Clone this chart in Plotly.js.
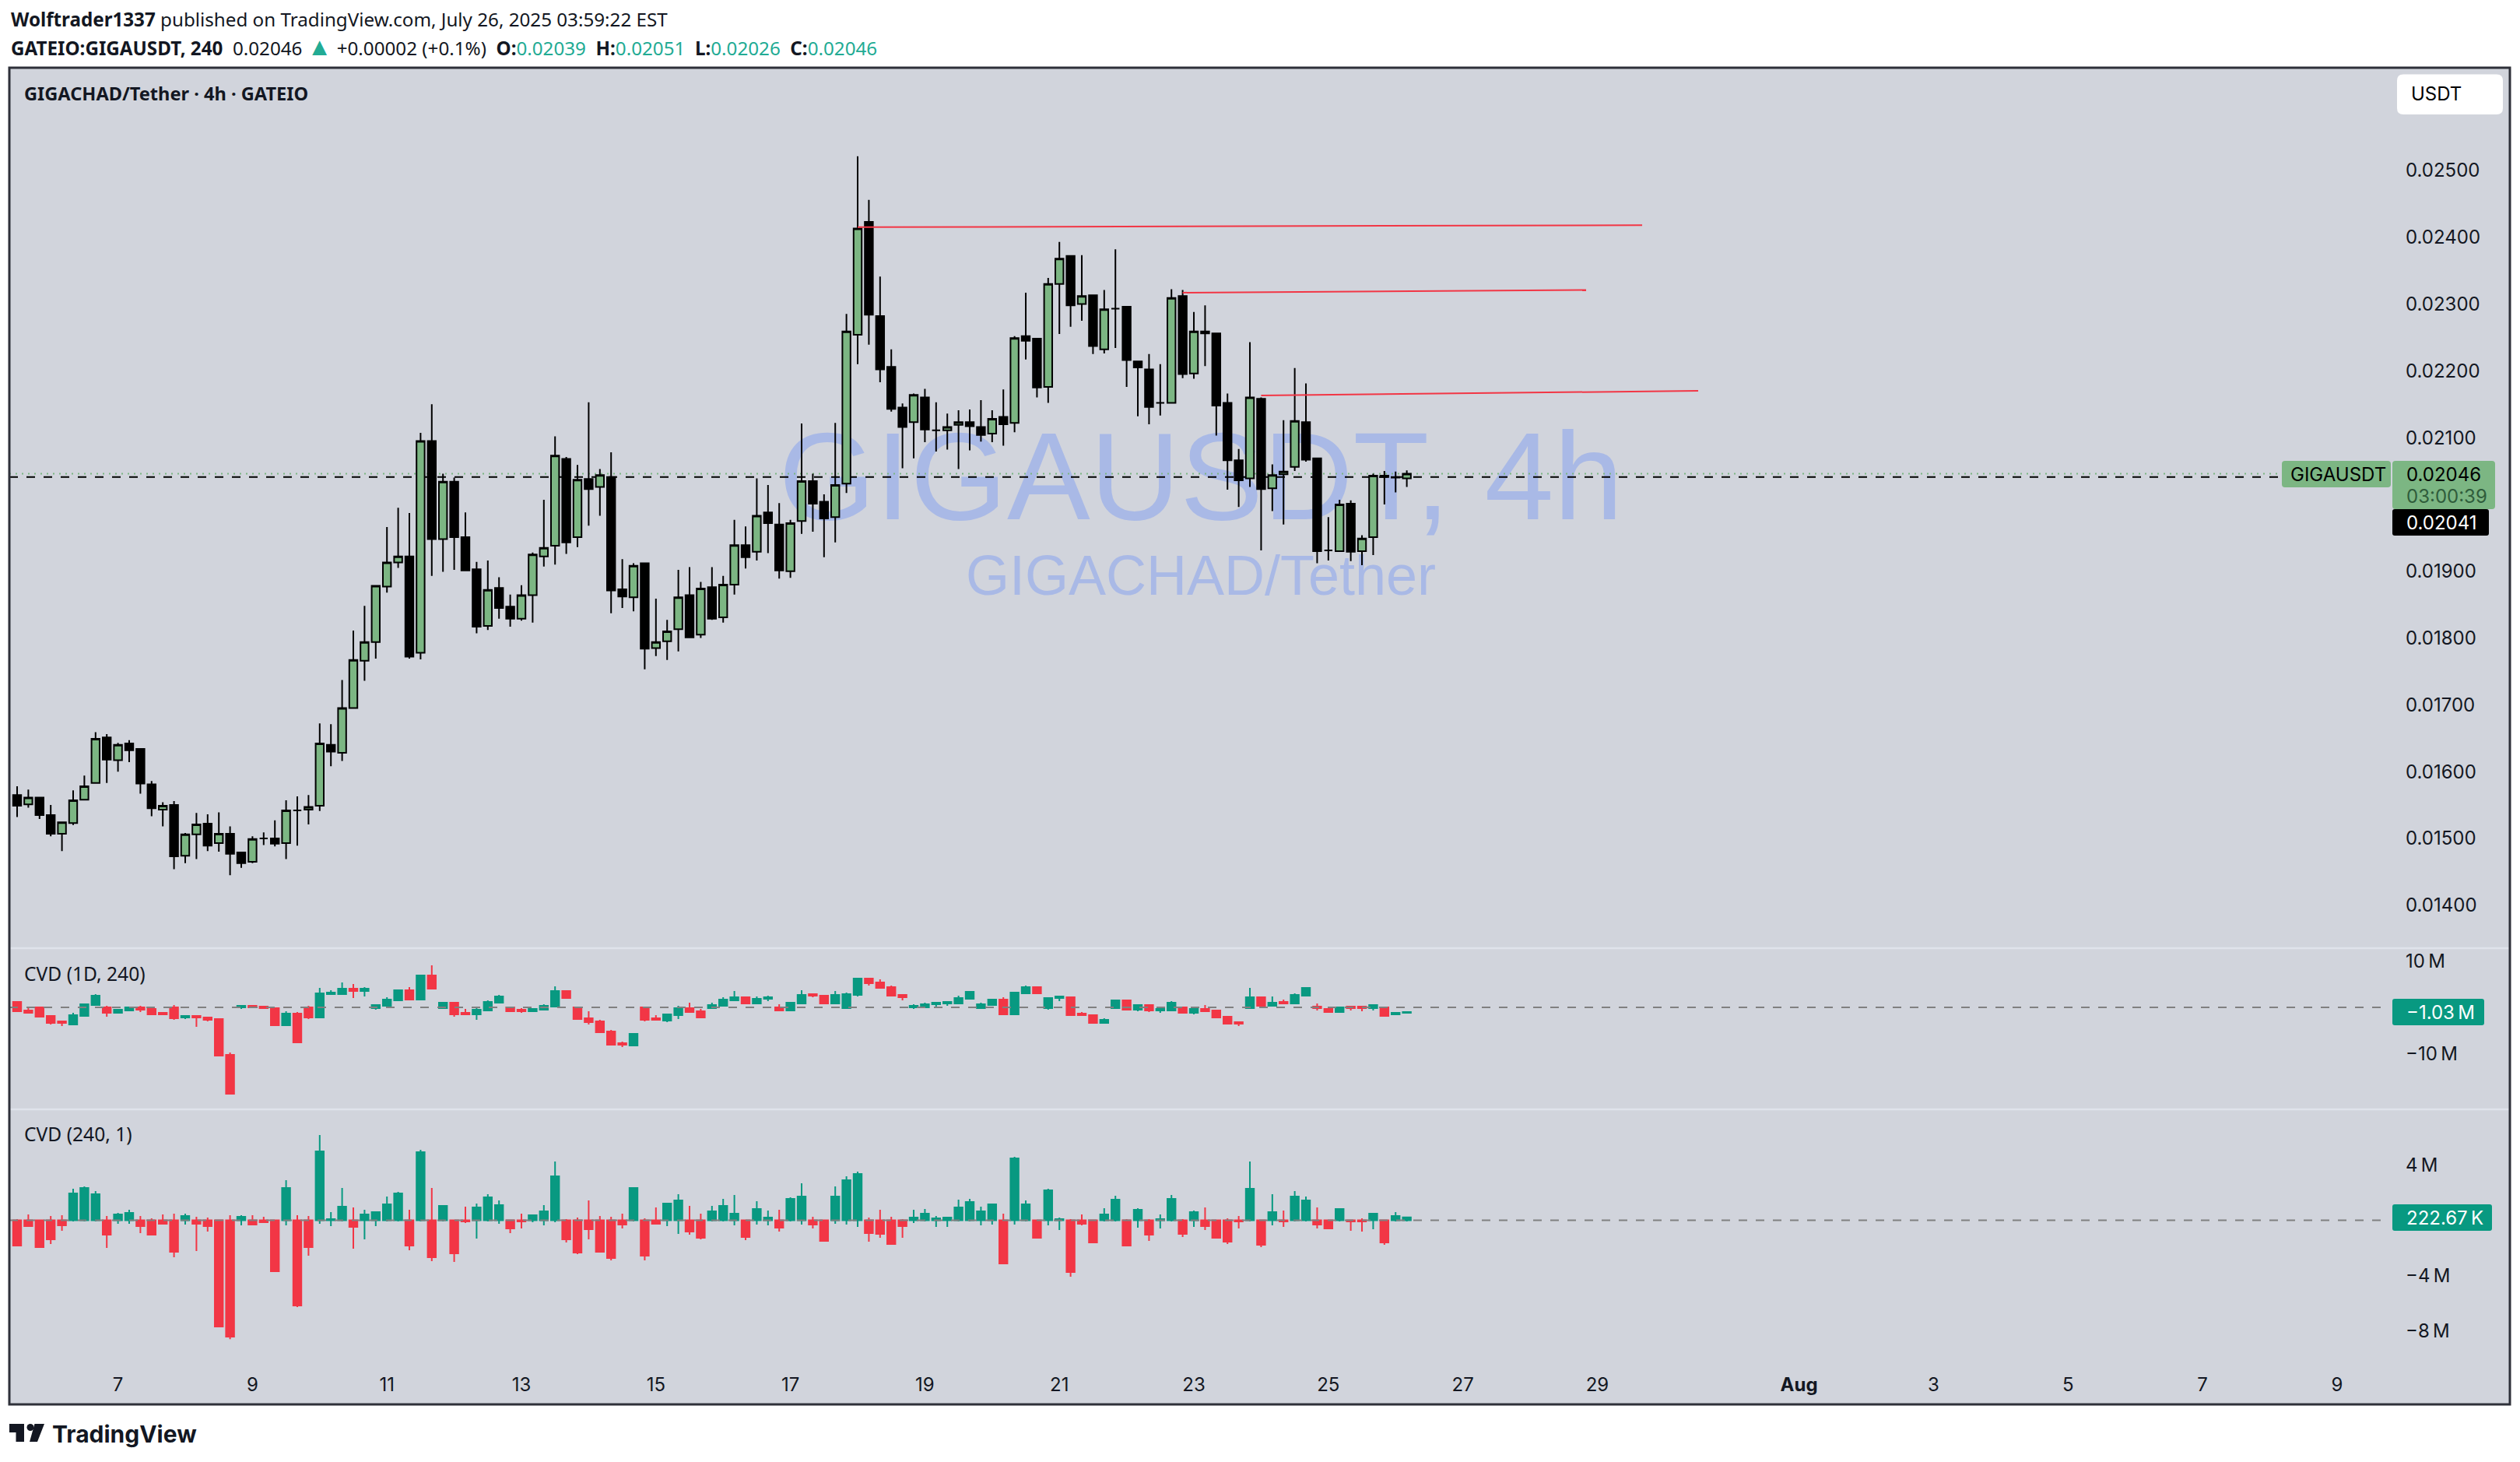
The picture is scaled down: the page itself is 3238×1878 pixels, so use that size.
<!DOCTYPE html>
<html><head><meta charset="utf-8">
<script src="https://cdn.plot.ly/plotly-3.0.1.min.js"></script>
<style>html,body{margin:0;padding:0;background:#fff}#c{width:3238px;height:1878px}</style>
</head><body><div id="c"></div>
<script>
// ---------- price candles (USDT) ----------
const priceOpen=[.01565,.01551,.01561,.01535,.01507,.01523,.01558,.01583,.01651,.01617,
.01642,.01634,.01581,.01543,.01550,.01474,.01506,.01522,.01493,.01507,
.01479,.01465,.01500,.01500,.01493,.01542,.01543,.01549,.01640,.01628,
.01695,.01766,.01794,.01877,.01913,.01922,.01778,.02095,.01948,.02034,
.01951,.01903,.01818,.01875,.01847,.01829,.01864,.01922,.01938,.02068,
.01951,.02038,.02026,.02041,.01873,.01861,.01912,.01785,.01795,.01813,
.01864,.01805,.01876,.01831,.01880,.01939,.01929,.01988,.01970,.01900,
.01975,.02035,.02004,.01981,.02031,.02254,.02423,.02282,.02206,.02145,
.02123,.02160,.02111,.02111,.02119,.02123,.02116,.02106,.02131,.02122,
.02252,.02248,.02176,.02330,.02372,.02300,.02313,.02232,.02293,.02296,
.02214,.02202,.02152,.02152,.02312,.02196,.02259,.02256,.02152,.02066,
.02039,.02158,.02024,.02045,.02056,.02123,.02069,.01931,.01930,.02001,
.01930,.01951,.02043,.02041,.02039];
const priceHigh=[.01578,.01573,.01561,.01550,.01524,.01572,.01594,.01659,.01656,.01643,
.01647,.01634,.01586,.01554,.01556,.01508,.01538,.01536,.01539,.01518,
.01479,.01503,.01509,.01527,.01557,.01563,.01565,.01672,.01671,.01737,
.01811,.01848,.01879,.01966,.01995,.01987,.02107,.02150,.02046,.02040,
.01988,.01914,.01916,.01891,.01865,.01879,.01928,.02007,.02102,.02071,
.02059,.02153,.02053,.02078,.01918,.01912,.01912,.01859,.01827,.01902,
.01906,.01884,.01906,.01893,.01977,.01967,.02039,.02029,.02002,.01977,
.02121,.02046,.02015,.02122,.02285,.02521,.02456,.02341,.02232,.02151,
.02166,.02173,.02153,.02136,.02141,.02142,.02156,.02141,.02172,.02252,
.02317,.02248,.02339,.02393,.02372,.02373,.02313,.02321,.02382,.02297,
.02214,.02225,.02210,.02322,.02321,.02288,.02298,.02256,.02166,.02083,
.02243,.02160,.02060,.02126,.02204,.02181,.02069,.01981,.02007,.02006,
.01954,.02046,.02050,.02049,.02051];
const priceLow=[.01532,.01546,.01529,.01503,.01481,.01520,.01558,.01583,.01583,.01600,
.01614,.01567,.01533,.01518,.01454,.01463,.01469,.01481,.01480,.01445,
.01456,.01463,.01490,.01488,.01469,.01489,.01521,.01541,.01608,.01616,
.01694,.01736,.01769,.01868,.01905,.01769,.01768,.01893,.01899,.01902,
.01901,.01807,.01812,.01829,.01817,.01826,.01823,.01907,.01910,.01926,
.01936,.01968,.01983,.01837,.01845,.01840,.01753,.01773,.01767,.01780,
.01800,.01800,.01827,.01823,.01865,.01904,.01916,.01927,.01889,.01890,
.01956,.01959,.01921,.01943,.02017,.02210,.02239,.02183,.02139,.02054,
.02069,.02093,.02079,.02082,.02053,.02081,.02094,.02093,.02088,.02108,
.02217,.02160,.02152,.02255,.02266,.02275,.02225,.02226,.02234,.02176,
.02132,.02120,.02133,.02151,.02189,.02188,.02207,.02103,.02022,.01996,
.02026,.01931,.01990,.01970,.02050,.02064,.01912,.01916,.01930,.01915,
.01909,.01924,.02000,.02018,.02026];
const priceClose=[.01549,.01561,.01535,.01507,.01524,.01557,.01578,.01649,.01618,.01640,
.01632,.01582,.01545,.01549,.01473,.01506,.01521,.01489,.01507,.01477,
.01463,.01499,.01500,.01492,.01542,.01542,.01547,.01642,.01630,.01695,
.01767,.01794,.01878,.01913,.01922,.01772,.02095,.01948,.02034,.01951,
.01901,.01817,.01872,.01845,.01829,.01864,.01925,.01935,.02073,.01943,
.02037,.02023,.02044,.01871,.01862,.01908,.01784,.01794,.01810,.01861,
.01801,.01874,.01829,.01880,.01939,.01921,.01983,.01972,.01901,.01972,
.02035,.02001,.01979,.02029,.02259,.02413,.02284,.02202,.02143,.02116,
.02164,.02112,.02111,.02116,.02123,.02117,.02104,.02128,.02120,.02249,
.02245,.02175,.02330,.02368,.02298,.02312,.02237,.02292,.02293,.02216,
.02205,.02146,.02152,.02309,.02195,.02259,.02256,.02148,.02066,.02036,
.02160,.02023,.02044,.02049,.02125,.02067,.01930,.01931,.02000,.01929,
.01949,.02043,.02041,.02040,.02046];

// ---------- CVD (1D, 240), millions ----------
const cvdDayOpen=[1.18,-.67,0,-1.85,-3.03,-3.70,-1.85,.50,0,-1.18,
-.67,0,-.34,-1.18,0,-2.19,-1.85,-2.19,-2.52,-10.26,
0,.34,.17,-.17,-3.87,-1.35,0,-2.19,2.86,2.86,
4.04,3.53,-.17,.34,1.51,3.70,1.68,6.90,-.17,1.01,
-1.18,-1.51,-.67,1.01,0,-.50,-.84,-.50,.17,3.53,
0,-2.35,-3.03,-5.21,-7.74,-8.24,0,-2.35,-2.86,-1.68,
-.17,-.84,-.17,.34,1.51,2.19,.84,1.85,0,-.67,
.84,2.86,2.52,.84,-.17,2.69,6.22,5.38,4.37,2.69,
0,0,.67,.84,.84,1.85,-.17,.50,1.68,-1.51,
3.03,4.37,-.17,2.02,2.19,-1.35,-1.68,-3.36,-.17,1.51,
-.50,.50,-.67,-.67,0,-1.18,-.34,-.67,-2.02,-3.20,
-.17,2.19,.34,1.18,.84,2.52,.17,-.34,-1.01,.17,
.17,-.17,0,-1.51,-1.18];
const cvdDayHigh=[1.18,-.17,0,-1.68,-2.86,-1.18,.84,2.86,.34,-.50,
.17,.34,-.17,-1.01,.50,-1.85,-1.85,-2.02,-2.52,-9.76,
.34,.50,.34,-.17,-.84,-1.01,.34,4.21,3.70,5.38,
5.05,4.37,.50,2.19,3.70,4.37,7.06,9.08,1.01,1.01,
-.34,-.17,1.51,2.69,0,-.17,-.34,.67,4.54,3.53,
0,-.84,-2.69,-4.88,-7.40,-5.72,0,-1.68,-1.51,.34,
1.01,-.34,1.01,2.19,3.53,2.19,2.35,2.52,.67,1.18,
3.70,3.03,2.52,3.53,3.20,6.39,6.39,6.06,4.71,2.86,
.67,1.01,1.01,1.18,2.52,3.53,1.01,1.85,2.19,3.20,
4.71,4.37,2.19,2.35,2.19,-1.01,-1.68,-2.35,1.68,1.51,
.67,.50,-.17,1.35,0,-.34,.50,-.67,-1.85,-3.20,
4.21,2.19,2.35,1.68,3.03,4.37,.84,-.17,0,.17,
.17,.50,0,-1.01,-.84];
const cvdDayLow=[-.84,-1.18,-2.02,-3.70,-4.04,-3.70,-1.85,.50,-2.02,-1.18,
-.84,-1.01,-1.51,-1.51,-2.69,-2.52,-4.21,-3.03,-10.43,-18.84,
-.34,0,-.17,-3.87,-4.04,-7.57,-2.52,-2.19,2.69,2.86,
2.02,2.35,-.50,.34,1.51,1.51,1.68,3.87,-.17,-2.02,
-1.51,-2.69,-.67,1.01,-1.01,-1.18,-.84,-.67,.17,1.85,
-2.52,-3.70,-5.38,-8.07,-8.58,-8.24,-3.03,-2.69,-3.20,-2.52,
-1.18,-2.19,-.17,.34,1.35,.67,.67,1.35,-.84,-.67,
.67,2.19,.84,.67,-.34,2.35,4.71,4.04,2.52,1.51,
-.34,0,0,.34,.84,1.85,-.34,.34,-1.51,-1.68,
3.03,3.03,-.50,1.35,-1.85,-1.85,-3.36,-3.36,-.17,-.50,
-.84,-1.01,-1.18,-.67,-1.35,-1.51,-1.01,-2.19,-3.70,-4.04,
-.17,.34,.17,.67,.84,2.52,-.67,-1.01,-1.01,-.67,
-.84,-.67,-1.85,-1.51,-1.18];
const cvdDayClose=[-.84,-1.18,-2.02,-3.36,-3.36,-1.68,.67,2.52,-1.18,-.50,
0,-.50,-1.51,-1.51,-2.35,-1.85,-2.19,-2.69,-10.43,-18.67,
.34,0,-.17,-3.87,-1.35,-7.57,-2.19,3.03,3.20,4.04,
3.53,4.04,.50,1.68,3.70,1.68,6.90,4.04,1.01,-1.51,
-1.51,-.50,1.18,2.35,-.84,-.84,-.34,.34,3.53,2.02,
-2.52,-3.20,-5.38,-8.07,-8.07,-5.72,-2.69,-2.69,-1.51,-.17,
-1.01,-2.19,.50,1.68,2.19,.84,1.85,2.19,-.67,1.01,
2.69,2.52,.84,2.69,2.86,6.22,5.21,4.21,2.52,2.19,
.34,.67,1.01,1.18,2.02,3.36,.67,1.68,-1.51,3.20,
4.37,3.03,2.02,2.35,-1.68,-1.68,-3.36,-2.69,1.51,-.50,
.50,-.67,-.34,1.01,-1.18,-.34,-.84,-2.19,-3.53,-3.53,
2.19,.34,1.01,.84,2.69,4.21,-.17,-1.01,0,-.17,
-.17,.50,-1.85,-1.18,-1.03];

// ---------- CVD (240, 1), millions; every bar opens at zero ----------
const cvdBarClose=[-1.84,-.42,-1.95,-1.38,-.37,1.95,2.34,1.89,-1.05,.42,
.54,-.42,-1.05,-.25,-2.29,.31,-.25,-.42,-7.71,-8.45,
.25,-.31,-.14,-3.70,2.34,-6.19,-1.95,5.00,.08,.99,
-.48,.42,.59,1.16,1.95,-1.84,4.94,-2.68,1.05,-2.40,
-.08,.93,1.67,1.10,-.59,-.08,.37,.65,3.19,-1.38,
-2.34,-.65,-2.29,-2.74,-.31,2.34,-2.57,-.25,1.21,1.44,
-.82,-1.27,.65,1.05,.48,-1.21,.82,.20,-.54,1.55,
1.72,-.31,-1.50,1.72,2.91,3.36,-.93,-.99,-1.72,-.42,
.20,.48,.14,.20,.93,1.33,.65,1.16,-3.14,4.49,
1.16,-1.27,2.17,.08,-3.76,-.25,-1.61,.42,1.50,-1.84,
.76,-1.05,.08,1.55,-.99,.59,-.42,-1.27,-1.55,-.08,
2.29,-1.78,.59,-.08,1.72,1.44,-.31,-.59,.82,-.08,
-.08,.48,-1.61,.31,.22];
const cvdBarHigh=[.08,.42,.03,.31,.37,2.29,2.46,2.12,.31,.54,
.76,.31,.14,.42,.48,.48,.25,.20,0,.37,
.37,.37,.25,0,2.91,.37,.31,6.19,.59,2.34,
.93,.76,.65,1.72,2.06,.76,5.11,2.34,1.05,0,
.99,1.21,1.89,1.44,0,.48,.42,1.10,4.26,.08,
.20,1.44,.31,.25,.48,2.34,.14,.93,1.21,1.89,
1.05,.48,1.05,1.55,1.84,.03,1.38,.71,.76,1.67,
2.68,.25,0,2.46,3.19,3.53,.20,.76,.25,.08,
.76,.82,.31,.25,1.50,1.55,.99,1.21,.48,4.60,
1.44,0,2.29,.20,.08,.42,0,.88,1.78,.08,
.88,.08,.42,1.84,.08,.71,.93,0,.14,.31,
4.26,0,1.89,.71,2.12,1.72,.93,.03,.82,0,
.14,.48,0,.59,.22];
const cvdBarLow=[-1.89,-.42,-1.95,-1.72,-.76,-.08,-.08,-.08,-2.01,-.25,
-.25,-.93,-1.10,-.25,-2.68,-.31,-2.23,-.82,-7.71,-8.62,
-.37,-.31,-.14,-3.70,-.37,-6.30,-2.57,-.25,-.42,-.08,
-2.06,-1.38,-.42,-.08,-.08,-2.17,-.08,-2.97,-.08,-3.02,
-.20,-1.33,-.08,-.25,-.93,-.59,-.14,-.37,-.14,-1.61,
-2.46,-1.38,-2.34,-2.91,-.59,-.08,-2.91,-.25,-.42,-.99,
-1.05,-1.38,-.08,-.08,-.37,-1.44,-.31,-.37,-.82,-.08,
-.31,-.59,-1.50,-.25,-.31,-.48,-1.55,-1.27,-1.72,-1.27,
-.20,-.08,-.48,-.48,-.08,-.08,-.37,-.31,-3.14,-.31,
-.08,-1.27,-.37,-.71,-4.10,-.37,-1.61,-.08,-.08,-1.89,
-.54,-1.50,-.59,-.08,-1.21,-.48,-.71,-1.27,-1.72,-.59,
-.08,-1.95,-.37,-.48,-.08,-.08,-.59,-.59,-.08,-.76,
-.82,-.65,-1.78,-.08,-.08];

// ---------- axes and levels ----------
const firstBar='2025-07-05T12:00:00Z';
const barHours=4;
const xRange=['2025-07-05 09:13:30','2025-08-09 20:19:00'];
const dayTickDates=['2025-07-07','2025-07-09','2025-07-11','2025-07-13','2025-07-15','2025-07-17','2025-07-19','2025-07-21','2025-07-23','2025-07-25','2025-07-27','2025-07-29','2025-08-01','2025-08-03','2025-08-05','2025-08-07','2025-08-09'];
const dayTickText=['7','9','11','13','15','17','19','21','23','25','27','29','<b>Aug</b>','3','5','7','9'];
const priceTicks=[.014,.015,.016,.017,.018,.019,.021,.022,.023,.024,.025];
const priceTickText=['0.01400','0.01500','0.01600','0.01700','0.01800','0.01900','0.02100','0.02200','0.02300','0.02400','0.02500'];
const cvdDayTicks=[10,-10];
const cvdDayTickText=['10\u202fM','\u221210\u202fM'];
const cvdBarTicks=[4,-4,-8];
const cvdBarTickText=['4\u202fM','\u22124\u202fM','\u22128\u202fM'];
const lastPrice=.02046, markPrice=.02041;
const resistanceBars=[[75,145],[104,140],[111,150]];
const resistancePrices=[[.02415,.02418],[.02317,.02321],[.02163,.02170]];

const W=3238,H=1878;
const px=x=>x/W, py=y=>1-y/H;
const t0=Date.parse(firstBar);
const iso=i=>new Date(t0+i*barHours*3600e3).toISOString().replace('T',' ').replace('Z','').slice(0,19);
const times=priceOpen.map((_,i)=>iso(i));

const INK='#131722', PANEL='#d1d4dc', GREEN='#7cb683', UP='#089981', DOWN='#f23645';
const FONT='Inter, sans-serif', HEAD='"Noto Sans", sans-serif';

function cs(o,h,l,c,axis,up,down,lineUp,lineDown,w){
  return {type:'candlestick',x:times,open:o,high:h,low:l,close:c,xaxis:'x',yaxis:axis,hoverinfo:'skip',showlegend:false,
    increasing:{line:{color:lineUp,width:w},fillcolor:up},
    decreasing:{line:{color:lineDown,width:w},fillcolor:down}};
}
const traces=[
  cs(priceOpen,priceHigh,priceLow,priceClose,'y',GREEN,'#000000','#000000','#000000',2),
  cs(cvdDayOpen,cvdDayHigh,cvdDayLow,cvdDayClose,'y2',UP,DOWN,UP,DOWN,2),
  cs(cvdBarClose.map(()=>0),cvdBarHigh,cvdBarLow,cvdBarClose,'y3',UP,DOWN,UP,DOWN,2)
];
resistanceBars.forEach((b,k)=>traces.push({type:'scatter',mode:'lines',x:b.map(iso),y:resistancePrices[k],xaxis:'x',yaxis:'y',
  line:{color:'#f23645',width:2},hoverinfo:'skip',showlegend:false}));

function rr(x0,y0,x1,y1,r,fill,layer){
  const X=px,Y=py;
  const d=`M ${X(x0+r)} ${Y(y0)} L ${X(x1-r)} ${Y(y0)} Q ${X(x1)} ${Y(y0)} ${X(x1)} ${Y(y0+r)} L ${X(x1)} ${Y(y1-r)} Q ${X(x1)} ${Y(y1)} ${X(x1-r)} ${Y(y1)} L ${X(x0+r)} ${Y(y1)} Q ${X(x0)} ${Y(y1)} ${X(x0)} ${Y(y1-r)} L ${X(x0)} ${Y(y0+r)} Q ${X(x0)} ${Y(y0)} ${X(x0+r)} ${Y(y0)} Z`;
  return {type:'path',xref:'paper',yref:'paper',path:d,fillcolor:fill,line:{width:0},layer:layer||'above'};
}
function poly(pts,fill){
  const d='M '+pts.map(p=>px(p[0])+' '+py(p[1])).join(' L ')+' Z';
  return {type:'path',xref:'paper',yref:'paper',path:d,fillcolor:fill,line:{width:0},layer:'above'};
}
function wm(x0,y0,x1,y1,text,size){
  return {type:'rect',xref:'paper',yref:'paper',x0:px(x0),x1:px(x1),y0:py(y1),y1:py(y0),line:{width:0},fillcolor:'rgba(0,0,0,0)',layer:'below',
    label:{text:text,font:{family:'"Liberation Sans", sans-serif',size:size,color:'#a9b9e6'},textposition:'middle center'}};
}
const L={x:12,r:3225,t:87,b:1804,pane:3076};
const shapes=[
  {type:'rect',xref:'paper',yref:'paper',x0:px(L.x),x1:px(L.r),y0:py(L.b),y1:py(L.t),fillcolor:PANEL,line:{width:0},layer:'below'},
  wm(1003,526,2083,666,'GIGAUSDT, 4h',160),
  wm(1188,692,1898,772,'GIGACHAD/Tether',72),
  {type:'line',xref:'paper',yref:'y',x0:px(L.x),x1:px(2932),y0:markPrice,y1:markPrice,line:{color:'#000',width:2,dash:'11px,11px'},layer:'below'},
  {type:'line',xref:'paper',yref:'y',x0:px(L.x),x1:px(2932),y0:lastPrice,y1:lastPrice,line:{color:GREEN,width:2,dash:'2px,6px'},layer:'below'},
  {type:'line',xref:'paper',yref:'paper',x0:px(L.x),x1:px(L.r),y0:py(1218),y1:py(1218),line:{color:'#e0e3eb',width:2.5},layer:'below'},
  {type:'line',xref:'paper',yref:'paper',x0:px(L.x),x1:px(L.r),y0:py(1425),y1:py(1425),line:{color:'#e0e3eb',width:2.5},layer:'below'},
  {type:'line',xref:'paper',yref:'y2',x0:px(L.x),x1:px(3062),y0:0,y1:0,line:{color:'#808080',width:2,dash:'11px,11px'},layer:'above'},
  {type:'line',xref:'paper',yref:'y3',x0:px(L.x),x1:px(3062),y0:0,y1:0,line:{color:'#808080',width:2,dash:'11px,11px'},layer:'above'},
  {type:'rect',xref:'paper',yref:'paper',x0:px(L.x),x1:px(L.r),y0:py(L.b),y1:py(L.t),fillcolor:'rgba(0,0,0,0)',line:{color:'#2e3039',width:3},layer:'above'},
  rr(3080,95.5,3216,147,8,'#ffffff'),
  rr(2932,592,3072,626,4,GREEN),
  rr(3074,592,3206,654,4,GREEN),
  rr(3074,654,3198,688,3,'#000000'),
  rr(3074,1283,3192,1317,3,UP),
  rr(3074,1547,3202,1581,3,UP),
  poly([[12,1829],[31,1829],[31,1852],[20.5,1852],[20.5,1840],[12,1840]],INK),
  poly([[44.5,1829],[57,1829],[48,1852],[38,1852]],INK),
  {type:'circle',xref:'paper',yref:'paper',x0:px(34.5),x1:px(43.5),y0:py(1838),y1:py(1829),fillcolor:INK,line:{width:0},layer:'above'}
];
function note(x,y,text,size,color,family){
  return {xref:'paper',yref:'paper',x:px(x),y:py(y),xanchor:'left',yanchor:'middle',align:'left',showarrow:false,text:text,borderpad:0,
    font:{family:family||FONT,size:size,color:color||INK}};
}
const TEAL='#22ab94';
const span=t=>`<span style="color:${TEAL}">${t}</span>`;
const tri=`<span style="color:${TEAL};font-size:32px">\u25B2</span>`;
const NB='\u00a0';
const annotations=[
  note(13,25,'<b>Wolftrader1337</b> published on TradingView.com, July 26, 2025 03:59:22 EST',24.2,INK,HEAD),
  note(13,58,`<b>GATEIO:GIGAUSDT, 240</b>${NB}${NB}0.02046 ${tri} +0.00002 (+0.1%)${NB}${NB}<b>O:</b>${span('0.02039')}${NB}${NB}<b>H:</b>${span('0.02051')}${NB}${NB}<b>L:</b>${span('0.02026')}${NB}${NB}<b>C:</b>${span('0.02046')}`,24.2,INK,HEAD),
  note(30,120,'<b>GIGACHAD/Tether \u00b7 4h \u00b7 GATEIO</b>',23.6,INK,HEAD),
  note(30,1250,'CVD (1D, 240)',24.6,INK,HEAD),
  note(30,1456,'CVD (240, 1)',24.6,INK,HEAD),
  note(3097,121,'USDT',24,'#000'),
  note(2942,609,'GIGAUSDT',24,'#000'),
  note(3091,609,'0.02046',24,'#000'),
  note(3091,637,'03:00:39',24,'#2f5c3b'),
  note(3091,671,'0.02041',24,'#fff'),
  note(3091,1300,'\u22121.03\u202fM',24,'#fff'),
  note(3091,1564,'222.67\u202fK',24,'#fff'),
  note(66,1842,'<b>TradingView</b>',30,INK)
];
const dom=(a,b)=>[py(b),py(a)];
function yax(domain,range,vals,text){
  return {domain:domain,range:range,tickmode:'array',tickvals:vals,ticktext:text,side:'right',anchor:'x',showgrid:false,zeroline:false,showline:false,
    ticks:'',ticklabelstandoff:14,tickfont:{family:FONT,size:24,color:INK},fixedrange:true};
}
const layout={
  width:W,height:H,margin:{l:0,r:0,t:0,b:0},paper_bgcolor:'#fff',plot_bgcolor:'rgba(0,0,0,0)',showlegend:false,
  boxgap:0.15,boxgroupgap:0.15,
  xaxis:{type:'date',domain:[px(L.x),px(L.pane)],range:xRange,anchor:'y3',tickmode:'array',tickvals:dayTickDates,ticktext:dayTickText,
    showgrid:false,zeroline:false,showline:false,ticks:'',tickfont:{family:FONT,size:24,color:INK},rangeslider:{visible:false},tickangle:0,ticklabelstandoff:10,fixedrange:true},
  yaxis:yax(dom(87,1218),[.013356,.026537],priceTicks,priceTickText),
  yaxis2:yax(dom(1218,1425),[-22.04,12.78],cvdDayTicks,cvdDayTickText),
  yaxis3:yax(dom(1425,1752),[-10.42,8.05],cvdBarTicks,cvdBarTickText),
  shapes:shapes,annotations:annotations
};
Plotly.newPlot('c',traces,layout,{displayModeBar:false,staticPlot:true,responsive:false});
</script></body></html>
